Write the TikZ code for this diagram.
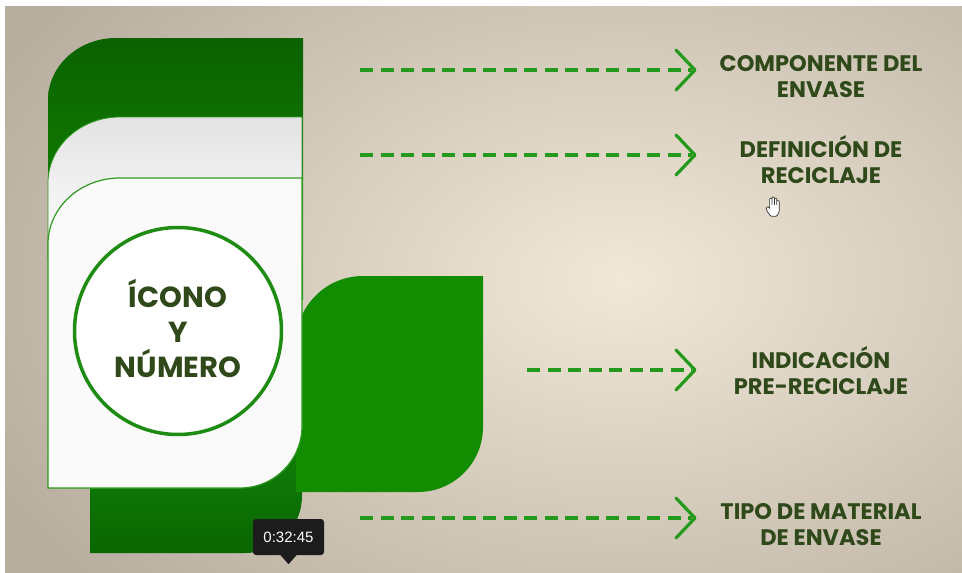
\documentclass[tikz,border=0pt]{standalone}
\usepackage{fontspec}
\newfontfamily\popp{Poppins}
\newfontfamily\tsfont{Liberation Sans}
\definecolor{bgin}{HTML}{F1E8D8}
\definecolor{bgout}{HTML}{B7AE9F}
\definecolor{agreenT}{HTML}{0B6200}
\definecolor{agreenB}{HTML}{148C00}
\definecolor{dgreenT}{HTML}{10800A}
\definecolor{dgreenB}{HTML}{0A6600}
\definecolor{egreen}{HTML}{128C00}
\definecolor{edgegreen}{HTML}{2E9A1E}
\definecolor{circgreen}{HTML}{1E8C12}
\definecolor{txtgreen}{HTML}{30491A}
\definecolor{arrgreen}{HTML}{249A1C}
\definecolor{tipbg}{HTML}{1C1C1C}
\begin{document}
\begin{tikzpicture}[x=1pt,y=-1pt,
  lbl/.style={font=\popp\bfseries\fontsize{22.5}{26}\selectfont, text=txtgreen, align=center, inner sep=0pt},
  ctext/.style={font=\popp\bfseries\fontsize{29}{35}\selectfont, text=txtgreen, align=center, inner sep=0pt},
  dashln/.style={draw=arrgreen, line width=4pt, dash pattern=on 13pt off 7.5pt},
  chev/.style={draw=arrgreen, line width=3.2pt, line cap=round, line join=round},
  tipbox/.style={fill=tipbg, rounded corners=3pt, minimum width=71pt, minimum height=36pt, inner sep=0pt, text=white, font=\tsfont\fontsize{15}{15}\selectfont}
]
\useasboundingbox (0,0) rectangle (962,573);
% background
\fill[bgout] (0,0) rectangle (962,573);
\shade[inner color=bgin, outer color=bgout] (620,280) ellipse[x radius=700pt, y radius=460pt];
\fill[white] (0,0) rectangle (962,6);
\fill[white] (0,0) rectangle (5,573);

% shape D (bottom block)
\shade[top color=dgreenT, bottom color=dgreenB] (90,440) -- (90,553) -- (245,553)
  arc[start angle=270, end angle=360, radius=57pt] -- (302,440) -- cycle;
% shape E (right block)
\fill[egreen] (483,276) -- (363,276) arc[start angle=90, end angle=180, radius=67pt]
  -- (296,492) -- (418,492) arc[start angle=270, end angle=360, radius=65pt] -- cycle;
% shape A (top tab)
\shade[top color=agreenT, bottom color=agreenB] (303,38) -- (116,38)
  arc[start angle=90, end angle=180, x radius=68pt, y radius=62pt] -- (48,300) -- (303,300) -- cycle;
% shape B (grey band)
\shade[top color=black!11, bottom color=white, draw=edgegreen, line width=0.8pt] (302,117) -- (120,117)
  arc[start angle=90, end angle=180, x radius=72pt, y radius=66pt] -- (48,260) -- (302,260) -- cycle;
% shape C (white body)
\filldraw[fill=white!98!black, draw=edgegreen, line width=1.2pt] (302,178) -- (120,178)
  arc[start angle=90, end angle=180, x radius=72pt, y radius=66pt] -- (48,488) -- (240,488)
  arc[start angle=270, end angle=360, radius=62pt] -- cycle;

% circle
\node[circle, draw=circgreen, line width=3.5pt, fill=white, minimum size=207pt, inner sep=0pt] (ico) at (178,331) {};
\node[ctext] (icotxt) at (178,328) {ÍCONO\\Y\\NÚMERO};

% labels
\node[lbl] (l1) at (821,77) {COMPONENTE DEL\\ENVASE};
\node[lbl] (l2) at (821,160) {DEFINICIÓN DE\\RECICLAJE};
\node[lbl] (l3) at (821,371) {INDICACIÓN\\PRE-RECICLAJE};
\node[lbl] (l4) at (821,525) {TIPO DE MATERIAL\\DE ENVASE};

% arrows
\coordinate (s1) at (360,70);  \coordinate (e1) at (695,70);
\coordinate (s2) at (360,155); \coordinate (e2) at (695,155);
\coordinate (s3) at (527,370); \coordinate (e3) at (695,370);
\coordinate (s4) at (360,518); \coordinate (e4) at (695,518);
\foreach \i in {1,2,3,4}{
  \draw[dashln] (s\i) -- ([xshift=-3pt]e\i);
  \draw[chev] ([shift={(-19,-20)}]e\i) -- (e\i) -- ([shift={(-19,20)}]e\i);
}

% timestamp tooltip
\node[tipbox] (ts) at (288.5,537) {0:32:45};
\fill[tipbg] ([xshift=-8pt]ts.south) -- ([xshift=8pt]ts.south) -- ([yshift=-9pt]ts.south) -- cycle;

% hand cursor
\begin{scope}[shift={(766,197)}, scale=1.2]
\draw[fill=white, draw=black!80, line width=0.7pt, line join=round, rounded corners=0.8pt]
  (0,9) -- (2,8) -- (3,10) -- (3,1) -- (5,1) -- (5,7) -- (5,0) -- (7,0) -- (7,7) -- (7,1) -- (9,1) -- (9,7)
  -- (9,3) -- (11,3) -- (11,12) -- (9,16) -- (4,16) -- (1,12) -- cycle;
\end{scope}
\end{tikzpicture}
\end{document}
